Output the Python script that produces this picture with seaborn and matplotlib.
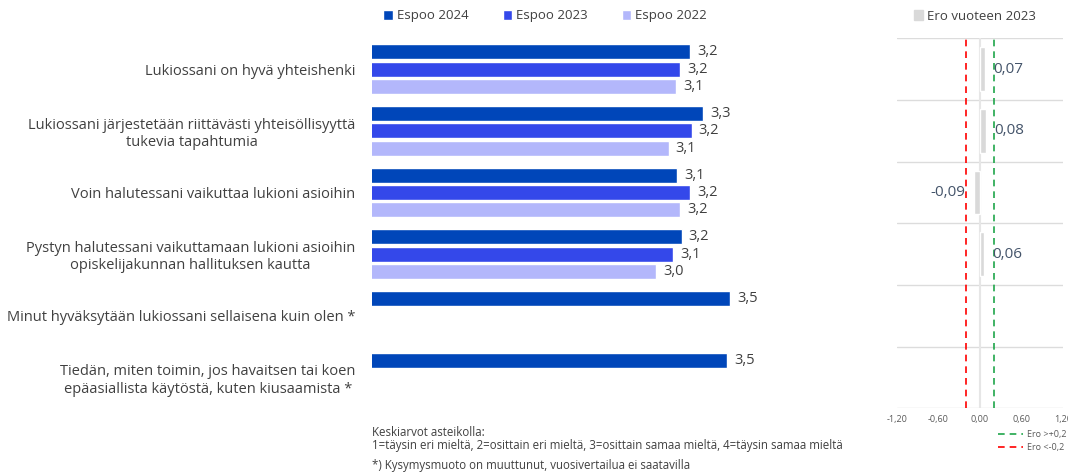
import numpy as np
import pandas as pd
import matplotlib
matplotlib.use("Agg")
import matplotlib.pyplot as plt
from matplotlib.patches import Patch
from matplotlib.lines import Line2D
import seaborn as sns

categories = [
    "Lukiossani on hyvä yhteishenki",
    "Lukiossani järjestetään riittävästi yhteisöllisyyttä\ntukevia tapahtumia",
    "Voin halutessani vaikuttaa lukioni asioihin",
    "Pystyn halutessani vaikuttamaan lukioni asioihin\nopiskelijakunnan hallituksen kautta",
    "Minut hyväksytään lukiossani sellaisena kuin olen *",
    "Tiedän, miten toimin, jos havaitsen tai koen\nepäasiallista käytöstä, kuten kiusaamista *",
]
years = ["Espoo 2024", "Espoo 2023", "Espoo 2022"]
espoo_2024 = [3.23, 3.32, 3.14, 3.17, 3.51, 3.49]
espoo_2023 = [3.16, 3.24, 3.23, 3.11, np.nan, np.nan]
espoo_2022 = [3.13, 3.08, 3.16, 2.99, np.nan, np.nan]
ero_2023 = [0.07, 0.08, -0.09, 0.06, np.nan, np.nan]

colors = ["#0046b9", "#3448ea", "#b3b7fb"]
text_col = "#404040"

df = pd.DataFrame({
    "kysymys": categories * 3,
    "vuosi": [y for y in years for _ in categories],
    "arvo": espoo_2024 + espoo_2023 + espoo_2022,
}).dropna()
df_ero = pd.DataFrame({"kysymys": categories, "ero": ero_2023}).dropna()

sns.set_theme(style="white")
plt.rcParams["font.family"] = ["Open Sans", "DejaVu Sans"]

fig = plt.figure(figsize=(10.68, 4.72), dpi=100)
top = 1 - 38.3 / 472
bottom = 1 - 408.3 / 472
ax = fig.add_axes([372 / 1068, bottom, 428 / 1068, top - bottom])
ax2 = fig.add_axes([897 / 1068, bottom, 166 / 1068, top - bottom])

# vasen paneeli: keskiarvot
sns.barplot(data=df, y="kysymys", x="arvo", hue="vuosi", order=categories,
            hue_order=years, palette=colors, width=0.84, gap=0.13,
            orient="h", ax=ax, saturation=1)
ax.set_xlim(1, 4)
ax.set_ylim(5.5, -0.5)
for c in ax.containers:
    ax.bar_label(c, fmt=lambda v: f"{v:.1f}".replace(".", ","), padding=5,
                 fontsize=10.5, color=text_col)
ax.set_xlabel("")
ax.set_ylabel("")
ax.set_xticks([])
ax.tick_params(axis="y", length=0, pad=12, labelsize=10.5, labelcolor=text_col)
for lab in ax.get_yticklabels():
    lab.set_multialignment("center")
sns.despine(ax=ax, left=True, bottom=True)
sns.move_legend(ax, "center", bbox_to_anchor=(545 / 1068, 1 - 16 / 472),
                bbox_transform=fig.transFigure, ncol=3, frameon=False,
                title=None, fontsize=9.5, handlelength=0.7, handleheight=0.7,
                handletextpad=0.3, columnspacing=2.6,
                labelcolor=text_col)

# oikea paneeli: ero vuoteen 2023
for yb in np.arange(-0.5, 6, 1):
    ax2.axhline(yb, color="#dcdcdc", lw=1, zorder=0)
ax2.axvline(0, color="#e6e6e6", lw=1.5, zorder=0)
sns.barplot(data=df_ero, y="kysymys", x="ero", order=categories,
            color="#d9d9d9", width=0.71, orient="h", ax=ax2, saturation=1)
ax2.axvline(-0.2, color="#ff0000", ls=(0, (4, 3)), lw=1.2)
ax2.axvline(0.2, color="#1fa64a", ls=(0, (4, 3)), lw=1.2)
for c in ax2.containers:
    ax2.bar_label(c, fmt=lambda v: f"{v:.2f}".replace(".", ","), padding=6,
                  fontsize=11, color="#44546a")
ax2.set_xlim(-1.2, 1.2)
ax2.set_ylim(5.5, -0.5)
ticks = [-1.2, -0.6, 0, 0.6, 1.2]
ax2.set_xticks(ticks)
ax2.set_xticklabels([f"{t:.2f}".replace(".", ",") for t in ticks])
ax2.tick_params(axis="x", length=0, labelsize=6.5, labelcolor="#595959", pad=5)
ax2.set_yticks([])
ax2.set_xlabel("")
ax2.set_ylabel("")
sns.despine(ax=ax2, left=True, bottom=True)

fig.legend(handles=[Patch(color="#d9d9d9", label="Ero vuoteen 2023")],
           loc="center", bbox_to_anchor=(975 / 1068, 1 - 16 / 472),
           frameon=False, fontsize=9.5, handlelength=0.7, handleheight=0.7,
           handletextpad=0.3, labelcolor=text_col)
fig.legend(handles=[Line2D([], [], color="#1fa64a", ls=(0, (4, 3)), lw=1.2, label="Ero >+0,2"),
                    Line2D([], [], color="#ff0000", ls=(0, (4, 3)), lw=1.2, label="Ero <-0,2")],
           loc="upper right", bbox_to_anchor=(1.0, 1 - 428 / 472),
           frameon=False, fontsize=6.5, handlelength=2.8, handletextpad=0.4,
           labelspacing=0.5, borderaxespad=0, borderpad=0.2, labelcolor="#595959")

fig.text(372 / 1068, 1 - 432 / 472, "Keskiarvot asteikolla:", fontsize=8.3,
         color=text_col, va="center")
fig.text(372 / 1068, 1 - 445 / 472,
         "1=täysin eri mieltä, 2=osittain eri mieltä, 3=osittain samaa mieltä, 4=täysin samaa mieltä",
         fontsize=8.3, color=text_col, va="center")
fig.text(372 / 1068, 1 - 465 / 472,
         "*) Kysymysmuoto on muuttunut, vuosivertailua ei saatavilla",
         fontsize=8.3, color=text_col, va="center")

fig.savefig("out.png", dpi=100)
